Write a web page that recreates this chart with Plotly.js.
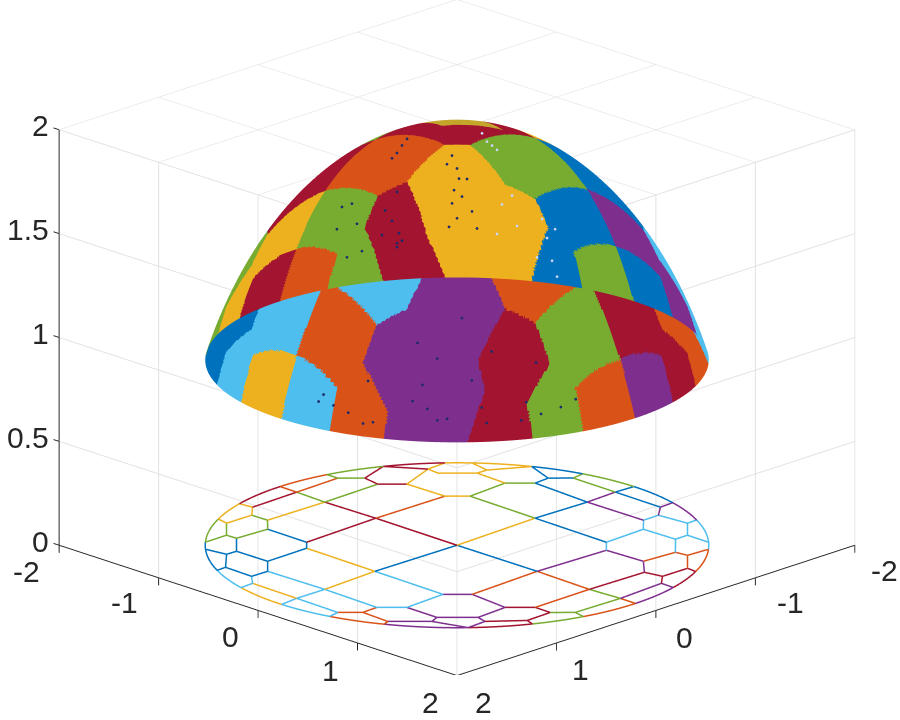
<!DOCTYPE html>
<html><head><meta charset="utf-8">
<script src="https://cdn.plot.ly/plotly-3.0.0.min.js"></script>
<style>html,body{margin:0;padding:0;background:#fff}#p{width:900px;height:720px}</style></head>
<body><div id="p"></div>
<script>
const xTicks=[-2,-1,0,1,2], yTicks=[-2,-1,0,1,2], zTicks=[0,0.5,1,1.5,2], zLabels=['0','0.5','1','1.5','2'];
const xLabelShiftX=[-33,-34,-28,-27,-27], xLabelShiftY=[-26,-25,-26,-28,-27];
const yLabelShiftX=[30,35,29,24,26], yLabelShiftY=[-25,-25,-27,-27,-27];
const Y='#EDB120',R='#A2142F',G='#77AC30',O='#D95319',B='#0072BD',P='#7E2F8E',C='#4DBEEE',GOLD='#C4A62A';
const nodeNames=['C0','A1','A2','A3','A4','A5','A6','A7','A8','A9','A10','A11','A12','A13','A14','A15','A16','A17','A18','A19','A20','A21','A22',
'B1','B2','B3','B4','B5','B6','B7','B8','B9','B10','B11','B12','B13','B14','B15','B16','B17','B18','B19','B20','B21','B22','B23','B24','B25','B26','B27','B28','B29','B30','B31','B32','B33','B34','B35','B36','B37','B38','B39','B40','B41','B42','B43','B44','B45','B46','B47','B48','B49','B50','B51','B52','B53','B54','B55','B56','B57','B58','B59','B60','B61','B62','B63','B64','B65','B66','B67','B68','B69','B70','B71','B72','B73','B74','B75','B76','B77','B78','B79'];
const nodeX=[0,-1.547,-1.315,-1.322,-1.19,-1.336,-1.494,-1.63,-1.727,-1.621,-1.774,-1.327,-.823,-.814,-.688,-.712,-.561,-.572,-.817,-1.003,-1.007,-1.203,-1.186,
-1.612,-1.714,-1.494,-1.337,-1.198,-1.497,-1.594,-1.216,-1.313,-1.306,-.802,-.71,-1.016,-1.02,-1.198,-.706,-.552,-.556,-.825,-.82,-.443,-.432,-.013,.012,.009,.026,.453,.431,.557,.551,.702,.683,.83,1.196,1.007,1.213,1.31,1.043,.822,.858,1.317,1.347,1.5,1.507,1.598,.803,1.342,1.637,1.625,1.727,1.789,1.612,1.729,1.51,1.357,1.183,.828,.705,1.206,1.313,1.513,1.594,1.316,1.209,1.005,1.006,.691,.553,.551,.82,.81,.438,.427,-.02,-.011,-.007,-.023,-.447,-.463];
const nodeY=[0,-.822,-1.023,-1.201,-.686,-.54,-.567,-.431,-.427,-.009,-.011,.003,-.007,-.693,-.819,-1.196,-1.347,-1.489,-1.552,-1.305,-1.209,-1.012,-1.337,
.443,.452,.571,.568,.706,.82,.794,1.001,1.005,1.213,.71,.802,1.201,1.297,1.321,1.198,1.352,1.51,1.502,1.589,1.612,1.724,.813,1.342,1.621,1.789,1.733,1.63,1.504,1.357,1.206,.824,.678,.712,1.209,1.002,1.028,1.295,1.517,1.604,1.206,.561,.563,.802,.833,-.003,.012,-.006,.436,.457,-.004,-.443,-.437,-.556,-.527,-.691,-.674,-.797,-.99,-1.005,-.805,-.794,-1.193,-1.3,-1.313,-1.191,-1.183,-1.322,-1.474,-1.497,-1.579,-1.607,-1.719,-1.612,-1.774,-1.317,-.808,-1.616,-1.722];
const rimNodes=['A3','A8','A10','A18','A1','A22','B2','B7','B10','B15','B20','B22','B26','B27','B40','B41','B45','B50','B51','B53','B62','B63','B64','B71','B73','B75','B79'];
const cellColors=[G,R,Y,B,O,R,Y,R,G,O,G,R,R,Y,Y,Y,Y,G,B,B,G,B,P,B,P,C,C,C,C,O,O,R,P,R,P,O,G,G,O,R,R,P,P,P,P,O,O,C,Y,C,Y,C,C,B,B,B,B,G,G,Y];
const cellNodes=[
'C0 A12 B11 B12 B23','C0 A12 A13 A14 B77','C0 B77 B58 B57 B46','C0 B46 B33 B32 B23',
'A12 A11 A5 A4 A13','A12 B11 B5 B4 A11','A11 B4 B3 B1 A9','A9 B1 B2 A10','A11 A9 A7 A6 A5','A9 A10 A8 A7','A7 A8 A1 A6','A1 A2 A4 A5 A6','A1 A3 A2',
'A13 A14 A15 A20 A21 A2 A4','A21 A20 A19 A22 A3 A2','A22 A19 A18','A15 A16 A17 A18 A19 A20',
'A14 B77 B76 A16 A15','A16 B76 B74 B78 A17','A17 B78 B79 A18','B78 B74 B75 B79','B77 B58 B67 B68 B76','B76 B68 B69 B72 B74','B74 B72 B73 B75','B72 B69 B70 B71 B73',
'B68 B67 B66 B65 B70 B69','B70 B65 B64 B71','B66 B59 B60 B63 B64 B65','B58 B57 B56 B59 B66 B67','B60 B63 B62 B61','B56 B59 B60 B61 B54 B55','B54 B61 B62 B53 B52',
'B46 B57 B56 B55 B47','B47 B55 B54 B52 B48','B48 B52 B53 B51','B48 B51 B50 B49','B42 B47 B48 B49 B43','B43 B49 B50 B45 B44','B33 B46 B47 B42 B34','B34 B42 B43 B44 B37 B36','B37 B44 B45 B41',
'B31 B32 B33 B34 B36 B35','B35 B36 B37 B41 B38','B39 B38 B41 B40','B29 B30 B31 B35 B38 B39','B28 B29 B39 B40 B27','B24 B30 B29 B28 B25','B23 B24 B30 B31 B32',
'B12 B23 B24 B17 B16','B17 B24 B25 B21 B18','B21 B25 B26 B22','B25 B28 B27 B26','B19 B18 B21 B22 B20','B13 B16 B17 B18 B19 B14','B15 B14 B19 B20','B10 B9 B8 B13 B14 B15','B5 B11 B12 B16 B13 B8','B6 B3 B4 B5 B8 B9','B10 B7 B6 B9','B7 B2 B1 B3 B6'];
const crownX=[-.5,-.6,-.27,-.17], crownY=[-.1,-.45,-.73,-.33];
const darkDiag=[-.05,0,.02,-.03,-.05,0,.05,-.1,.1,-.08,.15,.2,-.72,-.6,-.65,-.58,-.6,-.75,-.55,-.6,-1.05,-1.15,-1.2,-1,-1.1,-.95,-.55,-.6,-.65,-.5,-.3,-.1,-.2,-.4,.05,-.45,-.35,-.2,-.9,-.95,-.85,-1.35,-1.4,-1.25,-1.1,.15,.35,.25,.3,.8,.7,.85,.65,1.2,1.05];
const darkSum=[-1.7,-1.85,-1.95,-2.05,-2.15,-2.25,-2.1,-1.8,-1.95,-2.3,-2.2,-2.3,-2.05,-1.95,-2.15,-2.25,-2.3,-2.2,-2.3,-2.32,-1.8,-1.75,-1.9,-2,-2.15,-2.2,-1.4,-1.5,-1.55,-1.3,2.4,2.45,2.2,2.1,2,2.35,2.3,2.45,2.15,2.3,2.33,2,2,2.1,2.2,2.3,2.15,2.4,2.45,2.1,2.3,2.3,2.38,2.1,2.2];
const lightDiag=[.9,.95,1,.8,.45,.55,.6,.4,.25,.3,.35,.4,.85,.98];
const lightSum=[-2.15,-2.25,-2.3,-2.3,-2.1,-2,-2.2,-2.3,-1.3,-1.45,-1.5,-1.55,-2.05,-2.05];

const RIM=1.79, SPHERE=2;
const idx={}; nodeNames.forEach((n,i)=>idx[n]=i);
const rimSet=new Set(rimNodes);
function poly(list){
  const names=list.split(' '),out=[];
  names.forEach((n,i)=>{
    const m=names[(i+1)%names.length];
    const a=[nodeX[idx[n]],nodeY[idx[n]]],b=[nodeX[idx[m]],nodeY[idx[m]]];
    if(rimSet.has(n)&&rimSet.has(m)){
      let t0=Math.atan2(a[1],a[0]),t1=Math.atan2(b[1],b[0]);
      let d=t1-t0; while(d>Math.PI)d-=2*Math.PI; while(d<-Math.PI)d+=2*Math.PI;
      for(let s=0;s<12;s++){const t=t0+d*s/12;out.push([RIM*Math.cos(t),RIM*Math.sin(t)]);}
    } else if(rimSet.has(n)){
      const t=Math.atan2(a[1],a[0]);out.push([RIM*Math.cos(t),RIM*Math.sin(t)]);
    } else out.push(a);
  });
  return out;
}
const polys=cellNodes.map(poly);
function inside(p,x,y){let c=false;for(let i=0,j=p.length-1;i<p.length;j=i++){
  if((p[i][1]>y)!==(p[j][1]>y)&&x<(p[j][0]-p[i][0])*(y-p[i][1])/(p[j][1]-p[i][1])+p[i][0])c=!c;}return c;}
const crown=crownX.map((x,i)=>[x,crownY[i]]);
function colorAt(x,y){
  if(inside(crown,x,y))return GOLD;
  for(let i=0;i<polys.length;i++)if(inside(polys[i],x,y))return cellColors[i];
  return null;
}
const NR=130,NS=640,thMax=Math.asin(RIM/SPHERE);
const mx=[0],my=[0],mz=[SPHERE];
for(let r=1;r<=NR;r++){const th=thMax*r/NR;const rr=SPHERE*Math.sin(th),zz=SPHERE*Math.cos(th);
  for(let s=0;s<NS;s++){const a=2*Math.PI*s/NS;mx.push(rr*Math.cos(a));my.push(rr*Math.sin(a));mz.push(zz);}}
const vid=(r,s)=>1+(r-1)*NS+((s+NS)%NS);
const faces={};
let last=R;
function addFace(a,b,c){
  const x=(mx[a]+mx[b]+mx[c])/3,y=(my[a]+my[b]+my[c])/3,v=x+y;
  if(v>-.3&&v<1.0&&x*x+y*y<1.6)return;
  const col=colorAt(x,y)||last; last=col;
  let f=faces[col];
  if(!f)f=faces[col]={x:[],y:[],z:[],i:[],j:[],k:[],m:new Map()};
  const ref=t=>{let q=f.m.get(t);if(q===undefined){q=f.x.length;f.m.set(t,q);f.x.push(mx[t]);f.y.push(my[t]);f.z.push(mz[t]);}return q;};
  f.i.push(ref(a));f.j.push(ref(b));f.k.push(ref(c));
}
for(let s=0;s<NS;s++)addFace(0,vid(1,s),vid(1,s+1));
for(let r=1;r<NR;r++)for(let s=0;s<NS;s++){addFace(vid(r,s),vid(r+1,s),vid(r+1,s+1));addFace(vid(r,s),vid(r+1,s+1),vid(r,s+1));}
const traces=[];
Object.keys(faces).forEach(col=>{
  const f=faces[col];
  traces.push({type:'mesh3d',x:f.x,y:f.y,z:f.z,i:f.i,j:f.j,k:f.k,color:col,flatshading:true,
    lighting:{ambient:1,diffuse:0,specular:0,roughness:1,fresnel:0},hoverinfo:'skip',showscale:false});
});
polys.forEach((p,i)=>{
  const xs=p.map(q=>q[0]),ys=p.map(q=>q[1]);xs.push(xs[0]);ys.push(ys[0]);
  traces.push({type:'scatter3d',mode:'lines',x:xs,y:ys,z:xs.map(()=>0),line:{color:cellColors[i],width:3},hoverinfo:'skip',showlegend:false});
});
function specks(dg,sm,col){
  const xs=[],ys=[],zs=[];
  dg.forEach((d,i)=>{const x=(sm[i]+d)/2,y=(sm[i]-d)/2;const z=Math.sqrt(Math.max(0,SPHERE*SPHERE-x*x-y*y));
    const f=sm[i]<0?1.006:0.994;xs.push(x*f);ys.push(y*f);zs.push(z*f);});
  traces.push({type:'scatter3d',mode:'markers',x:xs,y:ys,z:zs,marker:{size:1.6,color:col,line:{width:0}},hoverinfo:'skip',showlegend:false});
}
specks(darkDiag,darkSum,'#1F2A6B');
specks(lightDiag,lightSum,'#C9D6F5');
const ink='#262626';
function ax(vals){return {range:[vals[0],vals[vals.length-1]],tickmode:'array',tickvals:vals,
  showbackground:false,showspikes:false,zeroline:false,showgrid:true,gridcolor:'#e2e2e2',gridwidth:2,
  showline:true,linecolor:ink,linewidth:2,ticks:'outside',ticklen:8,tickcolor:ink,tickwidth:2,
  showticklabels:false,title:{text:''},autorange:false};}
const labelFont={family:'Liberation Sans, Arial, sans-serif',size:30,color:ink};
const annotations=[];
xTicks.forEach((t,i)=>annotations.push({x:t,y:2,z:0,text:String(t),showarrow:false,font:labelFont,xanchor:'center',yanchor:'middle',xshift:xLabelShiftX[i],yshift:xLabelShiftY[i]}));
yTicks.forEach((t,i)=>annotations.push({x:2,y:t,z:0,text:String(t),showarrow:false,font:labelFont,xanchor:'center',yanchor:'middle',xshift:yLabelShiftX[i],yshift:yLabelShiftY[i]}));
zTicks.forEach((t,i)=>annotations.push({x:-2,y:2,z:t,text:zLabels[i],showarrow:false,font:labelFont,xanchor:'right',yanchor:'middle',xshift:-8,yshift:4}));
const layout={width:900,height:720,margin:{l:0,r:0,t:0,b:0},paper_bgcolor:'#fff',showlegend:false,
 scene:{domain:{x:[0.0156,1],y:[0.0625,1]},
  xaxis:ax(xTicks),yaxis:ax(yTicks),zaxis:ax(zTicks),annotations,
  aspectmode:'manual',aspectratio:{x:1.667,y:1.667,z:1.303},
  camera:{projection:{type:'orthographic'},eye:{x:-0.72,y:-0.72,z:-0.353},center:{x:0,y:0,z:0},up:{x:0,y:0,z:1}}}};
Plotly.newPlot('p',traces,layout,{displayModeBar:false});
</script></body></html>
